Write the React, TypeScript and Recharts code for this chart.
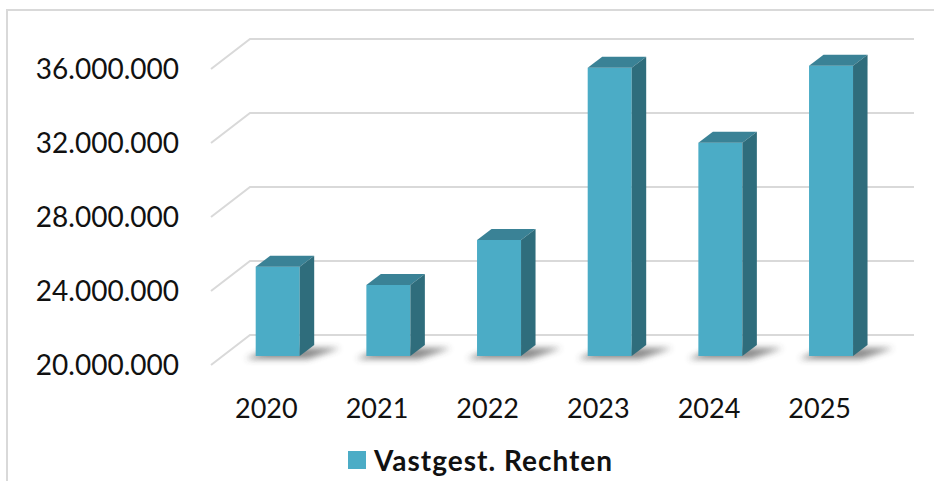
import { BarChart, Bar, XAxis, YAxis, CartesianGrid } from "recharts";

const years = ["2020", "2021", "2022", "2023", "2024", "2025"];
const rechten = [24830000, 23840000, 26270000, 35580000, 31530000, 35690000];
const yTicks = [20000000, 24000000, 28000000, 32000000, 36000000];
const seriesName = "Vastgest. Rechten";

const data = years.map((year, i) => ({ year, rechten: rechten[i] }));

// oblique 3D look: back wall offset and bar placement inside the depth
const WALL = { dx: 39, dy: -30 };
const BAR_FRONT = { dx: 11.7, dy: -9 };
const BAR_DEPTH = { dx: 14.5, dy: -11 };

const FRONT = "#4BACC6";
const TOP = "#3A8296";
const SIDE = "#2F6D7C";
const GRID = "#d9d9d9";
const FONT = "Lato, 'Open Sans', sans-serif";

const fmt = (v: number) => String(v).replace(/\B(?=(\d{3})+(?!\d))/g, ".");

const GridLine = (p: any) => {
  const { x1, y1, x2 } = p;
  const by = y1 + WALL.dy;
  return (
    <g key={`g-${y1}`}>
      <polyline
        points={`${x1},${y1} ${x1 + WALL.dx},${by} ${x2 + WALL.dx},${by}`}
        fill="none"
        stroke={GRID}
        strokeWidth={2}
      />
    </g>
  );
};

const Bar3D = (props: any) => {
  const { x, y, width, height, index } = props;
  const fx = x + BAR_FRONT.dx;
  const fy = y + BAR_FRONT.dy;
  const base = fy + height;
  const { dx, dy } = BAR_DEPTH;
  const id = `sh-${index}`;
  return (
    <g>
      <defs>
        <filter id={id} x="-50%" y="-200%" width="200%" height="500%">
          <feGaussianBlur stdDeviation="3" />
        </filter>
      </defs>
      <polygon
        points={`${fx - 10},${base + 3} ${fx + width + 8},${base + 3} ${fx + width + dx + 26},${base + dy + 3} ${fx + dx},${base + dy + 3}`}
        fill="#3c3c3c"
        opacity={0.6}
        filter={`url(#${id})`}
      />
      <rect x={fx} y={fy} width={width} height={height} fill={FRONT} />
      <polygon
        points={`${fx},${fy} ${fx + width},${fy} ${fx + width + dx},${fy + dy} ${fx + dx},${fy + dy}`}
        fill={TOP}
      />
      <polygon
        points={`${fx + width},${fy} ${fx + width + dx},${fy + dy} ${fx + width + dx},${base + dy} ${fx + width},${base}`}
        fill={SIDE}
      />
    </g>
  );
};

const YTick = (p: any) => (
  <text x={p.x - 30} y={p.y + 10} textAnchor="end" fontFamily={FONT} fontSize={28} fill="#111">
    {fmt(p.payload.value)}
  </text>
);

const XTick = (p: any) => (
  <text x={p.x} y={p.y + 51} textAnchor="middle" fontFamily={FONT} fontSize={27} fill="#111">
    {p.payload.value}
  </text>
);

export default function App() {
  return (
    <div style={{ position: "absolute", left: 0, top: 0, width: 934, height: 481, overflow: "hidden", background: "#fff" }}>
      <div
        style={{
          position: "absolute",
          left: 6,
          top: 9,
          width: 1000,
          height: 1000,
          border: `2px solid ${GRID}`,
        }}
      />
      <div style={{ position: "absolute", left: 0, top: 0 }}>
        <BarChart width={934} height={481} data={data} margin={{ top: 69, right: 59, bottom: 56, left: 0 }} barSize={44}>
          <CartesianGrid vertical={false} horizontal={(p: any) => <GridLine {...p} />} />
          <XAxis dataKey="year" axisLine={false} tickLine={false} tickSize={0} height={60} tick={<XTick />} interval={0} />
          <YAxis
            domain={[20000000, 36000000]}
            ticks={yTicks}
            axisLine={false}
            tickLine={false}
            tickSize={0}
            width={211}
            tick={<YTick />}
          />
          <Bar dataKey="rechten" name={seriesName} fill={FRONT} shape={<Bar3D />} isAnimationActive={false} />
        </BarChart>
      </div>
      <div
        style={{
          position: "absolute",
          left: 348,
          top: 443,
          display: "flex",
          alignItems: "center",
          fontFamily: FONT,
          fontWeight: 700,
          fontSize: 28,
          letterSpacing: 1,
          color: "#111",
          whiteSpace: "nowrap",
        }}
      >
        <span style={{ display: "inline-block", width: 18, height: 18, background: FRONT, marginRight: 8 }} />
        {seriesName}
      </div>
    </div>
  );
}
